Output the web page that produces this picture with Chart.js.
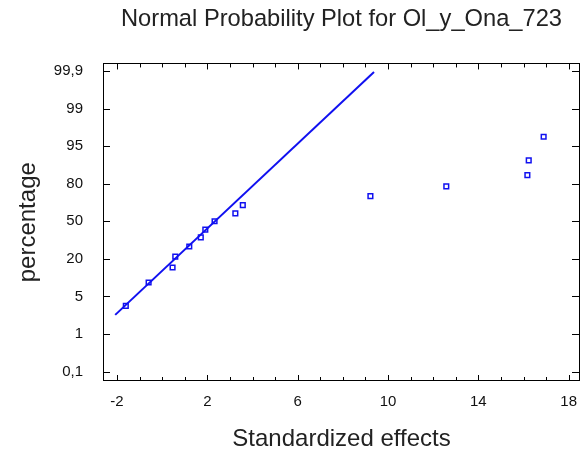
<!DOCTYPE html>
<html>
<head>
<meta charset="utf-8">
<script src="https://cdn.jsdelivr.net/npm/chart.js@4.4.0/dist/chart.umd.min.js"></script>
<style>
  html, body { margin: 0; padding: 0; background: #fff; }
  #wrap { width: 581px; height: 457px; }
</style>
</head>
<body>
<div id="wrap"><canvas id="probChart"></canvas></div>
<script>
// probability labels, placed at equal steps on the y axis (index 0..8)
var percentLabels = ['0,1', '1', '5', '20', '50', '80', '95', '99', '99,9'];

// standardized effects and their plotting position (in label-index units)
var effects = [-1.61, -0.60, 0.46, 0.58, 1.20, 1.71, 1.91, 2.32, 3.24, 3.57, 9.22, 12.58, 16.17, 16.23, 16.89];
var positions = [1.75, 2.37, 2.77, 3.06, 3.33, 3.57, 3.78, 4.00, 4.21, 4.43, 4.67, 4.93, 5.23, 5.62, 6.25];

// reference line end points
var lineX = [-2.08, 9.38];
var lineY = [1.51, 7.97];

var blue = '#1010f0';

// frame with inward tick marks on all four sides
var frameTicks = {
  id: 'frameTicks',
  afterDraw: function(chart) {
    var ctx = chart.ctx;
    var area = chart.chartArea;
    var xs = chart.scales.x, ys = chart.scales.y;
    ctx.save();
    ctx.strokeStyle = '#000';
    ctx.lineWidth = 1;
    ctx.strokeRect(Math.round(area.left) + 0.5, Math.round(area.top) + 0.5,
                   Math.round(area.right - area.left) - 1, Math.round(area.bottom - area.top) - 1);
    ctx.beginPath();
    xs.ticks.forEach(function(t) {
      var px = Math.round(xs.getPixelForValue(t.value)) + 0.5;
      var len = ((t.value + 2) % 4 === 0) ? 6 : 4;
      ctx.moveTo(px, area.bottom);
      ctx.lineTo(px, area.bottom - len);
      ctx.moveTo(px, area.top);
      ctx.lineTo(px, area.top + len);
    });
    ys.ticks.forEach(function(t) {
      var py = Math.round(ys.getPixelForValue(t.value)) + 0.5;
      ctx.moveTo(area.left, py);
      ctx.lineTo(area.left + 7, py);
      ctx.moveTo(area.right, py);
      ctx.lineTo(area.right - 8, py);
    });
    ctx.stroke();
    ctx.restore();
  }
};

var pointData = effects.map(function(v, i) { return {x: v, y: positions[i]}; });
var lineData = lineX.map(function(v, i) { return {x: v, y: lineY[i]}; });

Chart.defaults.font.family = '"Liberation Sans", Arial, sans-serif';

new Chart(document.getElementById('probChart').getContext('2d'), {
  type: 'scatter',
  data: {
    datasets: [{
      label: 'fit',
      type: 'line',
      data: lineData,
      borderColor: blue,
      borderWidth: 2,
      pointRadius: 0,
      fill: false
    }, {
      label: 'effects',
      data: pointData,
      pointStyle: 'rect',
      pointRadius: 3.3,
      borderColor: blue,
      borderWidth: 1.5,
      backgroundColor: 'rgba(0,0,0,0)'
    }]
  },
  options: {
    responsive: true,
    maintainAspectRatio: false,
    animation: false,
    layout: { autoPadding: false, padding: { right: 1, top: 0, left: 0, bottom: 0 } },
    plugins: {
      legend: { display: false },
      tooltip: { enabled: false },
      title: {
        display: true,
        fullSize: false,
        text: 'Normal Probability Plot for Ol_y_Ona_723',
        color: '#222',
        font: { size: 23.7, weight: 'normal' },
        padding: { top: 5, bottom: 30 }
      }
    },
    scales: {
      x: {
        type: 'linear',
        min: -2.62,
        max: 18.5,
        grid: { display: false, drawTicks: false },
        border: { display: false },
        ticks: {
          stepSize: 1,
          autoSkip: false,
          includeBounds: false,
          maxRotation: 0,
          padding: 12,
          color: '#111',
          font: { size: 15 },
          callback: function(v) { return ((v + 2) % 4 === 0) ? String(v) : ''; }
        },
        title: {
          display: true,
          text: 'Standardized effects',
          color: '#222',
          font: { size: 24 },
          padding: { top: 0, bottom: 3 }
        },
        afterFit: function(scale) {
          scale.height = 76;
          scale.paddingLeft = 0;
          scale.paddingRight = 0;
        }
      },
      y: {
        type: 'linear',
        min: -0.25,
        max: 8.2,
        grid: { display: false, drawTicks: false },
        border: { display: false },
        ticks: {
          stepSize: 1,
          autoSkip: false,
          includeBounds: false,
          padding: 20,
          color: '#111',
          font: { size: 15 },
          callback: function(v) { return percentLabels[v] !== undefined ? percentLabels[v] : ''; }
        },
        title: {
          display: true,
          text: 'percentage',
          color: '#222',
          font: { size: 24 },
          padding: { top: 14, bottom: 0 }
        },
        afterFit: function(scale) {
          scale.width = 103;
          scale.paddingTop = 0;
          scale.paddingBottom = 0;
        }
      }
    }
  },
  plugins: [frameTicks]
});
</script>
</body>
</html>
